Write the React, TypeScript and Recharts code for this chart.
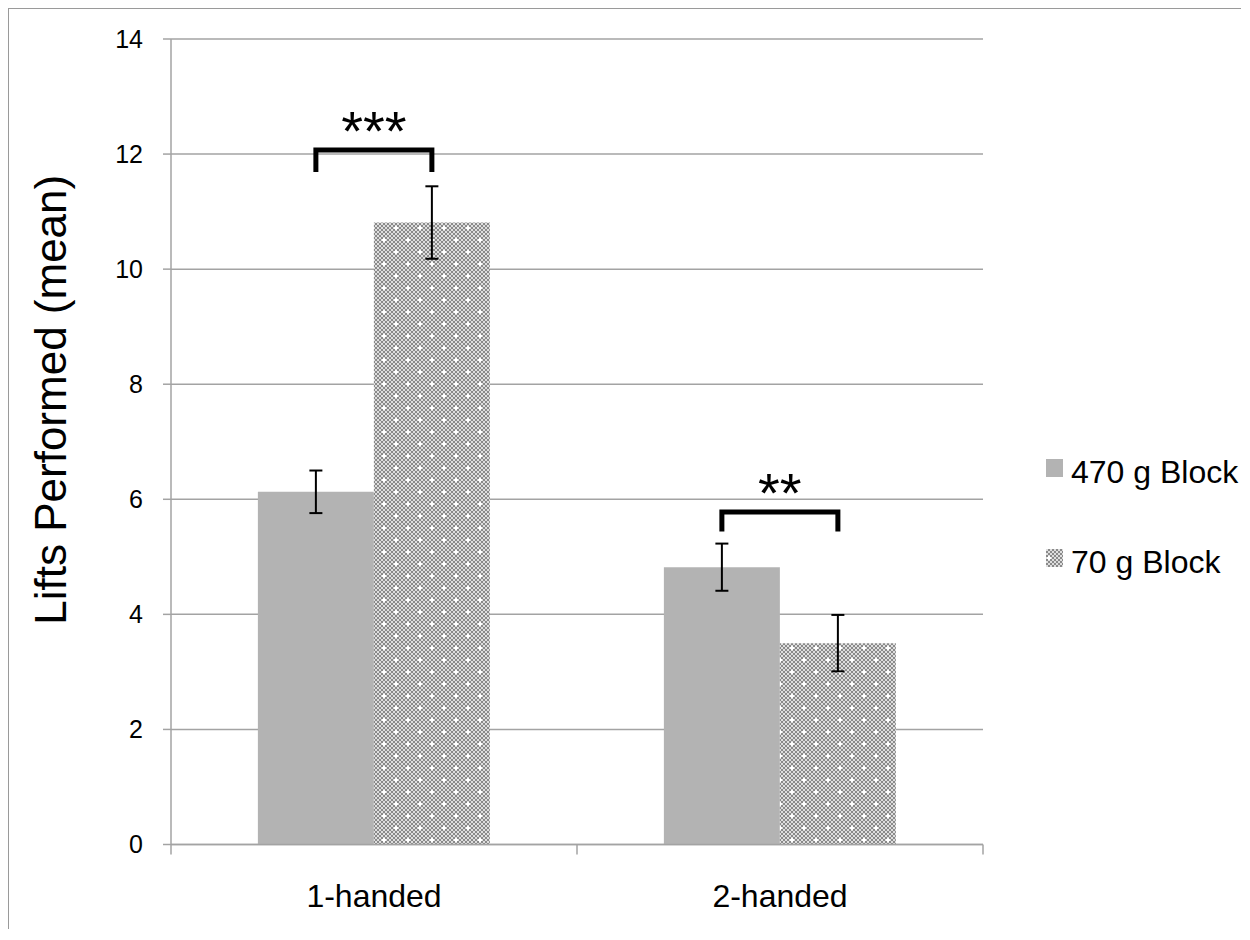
import React from "react";
import {
  BarChart,
  Bar,
  XAxis,
  YAxis,
  CartesianGrid,
  ErrorBar,
  LabelList,
  Legend,
} from "recharts";

const groups = ["1-handed", "2-handed"];
const heavyMeans = [6.13, 4.82];
const heavyErr = [0.37, 0.41];
const lightMeans = [10.81, 3.5];
const lightErr = [0.63, 0.49];
// significance brackets (top bar level and foot level, in axis units)
const bracketTops = [12.07, 5.78];
const bracketFeet = [11.69, 5.44];
const stars = ["***", "**"];
const yTicks = [0, 2, 4, 6, 8, 10, 12, 14];

const FONT = "'Liberation Sans', Arial, sans-serif";
const GRID = "#a3a3a3";

const data = groups.map((g, i) => ({
  group: g,
  heavy: heavyMeans[i],
  heavyErr: heavyErr[i],
  light: lightMeans[i],
  lightErr: lightErr[i],
}));

// label in the middle of the band, tick marks on the band edges
const CatTick = (props: any) => {
  const { x, y, payload, index, visibleTicksCount } = props;
  const half = payload.offset ?? 203;
  const last = index === (visibleTicksCount ?? groups.length) - 1;
  return (
    <g>
      <line x1={x - half} x2={x - half} y1={y} y2={y + 10} stroke={GRID} strokeWidth={1.5} />
      {last && (
        <line x1={x + half} x2={x + half} y1={y} y2={y + 10} stroke={GRID} strokeWidth={1.5} />
      )}
      <text x={x} y={y + 62.5} textAnchor="middle" fontSize={32} fontFamily={FONT} fill="#000">
        {payload.value}
      </text>
    </g>
  );
};

const Bracket = (props: any) => {
  const vb = props.viewBox ?? props;
  const x = vb.x ?? props.x;
  const y = vb.y ?? props.y;
  const width = vb.width ?? props.width;
  const height = vb.height ?? props.height;
  const index = props.index ?? 0;
  const value = lightMeans[index];
  const zero = y + height;
  const perUnit = height / value;
  const left = x - width / 2;
  const right = x + width / 2;
  const top = zero - bracketTops[index] * perUnit;
  const foot = zero - bracketFeet[index] * perUnit;
  return (
    <g>
      <polyline
        points={`${left},${foot} ${left},${top} ${right},${top} ${right},${foot}`}
        fill="none"
        stroke="#000"
        strokeWidth={5}
      />
      <text
        x={(left + right) / 2}
        y={top}
        textAnchor="middle"
        fontSize={56}
        fontFamily={FONT}
        fill="#000"
      >
        {stars[index]}
      </text>
    </g>
  );
};

const YTitle = (props: any) => {
  const vb = props.viewBox;
  const cx = vb.x + 41;
  const cy = vb.y + vb.height / 2 - 42;
  return (
    <text
      x={cx}
      y={cy}
      transform={`rotate(-90, ${cx}, ${cy})`}
      textAnchor="middle"
      dominantBaseline="central"
      fontSize={44}
      fontFamily={FONT}
      fill="#000"
    >
      Lifts Performed (mean)
    </text>
  );
};

const LegendBox = ({ payload }: any) => (
  <svg width={200} height={130} style={{ display: "block" }}>
    {(payload || []).map((entry: any, i: number) => (
      <g key={entry.value}>
        <rect x={0} y={i * 90} width={17} height={18} fill={entry.color} />
        <text x={25} y={i * 90 + 24} fontSize={32} fontFamily={FONT} fill="#000">
          {entry.value}
        </text>
      </g>
    ))}
  </svg>
);

export default function App() {
  return (
    <div style={{ borderTop: "1px solid #9a9a9a", borderLeft: "1px solid #9a9a9a", width: 1232 }}>
      <BarChart
        width={1230}
        height={920}
        data={data}
        margin={{ top: 30, right: 56, bottom: 24.5, left: 0 }}
        barCategoryGap="21.4%"
        barGap={0}
      >
        <defs>
          <pattern id="checker" width="4" height="4" patternUnits="userSpaceOnUse">
            <rect width="4" height="4" fill="#dedede" />
            <rect width="2" height="2" fill="#8a8a8a" />
            <rect x="2" y="2" width="2" height="2" fill="#8a8a8a" />
          </pattern>
          <pattern id="dots" width="24" height="24" patternUnits="userSpaceOnUse">
            <rect width="24" height="24" fill="url(#checker)" />
            <rect x="1" y="2" width="4" height="2" fill="#fff" />
            <rect x="2" y="1" width="2" height="4" fill="#fff" />
            <rect x="13" y="14" width="4" height="2" fill="#fff" />
            <rect x="14" y="13" width="2" height="4" fill="#fff" />
          </pattern>
        </defs>
        <CartesianGrid horizontal vertical={false} stroke={GRID} strokeWidth={1.5} />
        <XAxis
          dataKey="group"
          interval={0}
          tickLine={false}
          tickSize={0}
          tickMargin={0}
          tick={<CatTick />}
          height={60}
          axisLine={{ stroke: GRID, strokeWidth: 1.5 }}
        />
        <YAxis
          domain={[0, 14]}
          ticks={yTicks}
          interval={0}
          width={162}
          tickSize={8}
          tickMargin={20}
          tickLine={{ stroke: GRID, strokeWidth: 1.5 }}
          axisLine={{ stroke: GRID, strokeWidth: 1.5 }}
          tick={{ fontSize: 25, fontFamily: FONT, fill: "#000" }}
          label={<YTitle />}
        />
        <Legend
          layout="horizontal"
          verticalAlign="middle"
          align="right"
          width={200}
          wrapperStyle={{ left: 1037, top: 450, right: "auto" }}
          content={<LegendBox />}
        />
        <Bar dataKey="heavy" name="470 g Block" fill="#b3b3b3" isAnimationActive={false}>
          <ErrorBar dataKey="heavyErr" width={6.5} stroke="#000" strokeWidth={2} />
        </Bar>
        <Bar dataKey="light" name="70 g Block" fill="url(#dots)" isAnimationActive={false}>
          <ErrorBar dataKey="lightErr" width={6.5} stroke="#000" strokeWidth={2} />
          <LabelList dataKey="light" content={<Bracket />} />
        </Bar>
      </BarChart>
    </div>
  );
}
